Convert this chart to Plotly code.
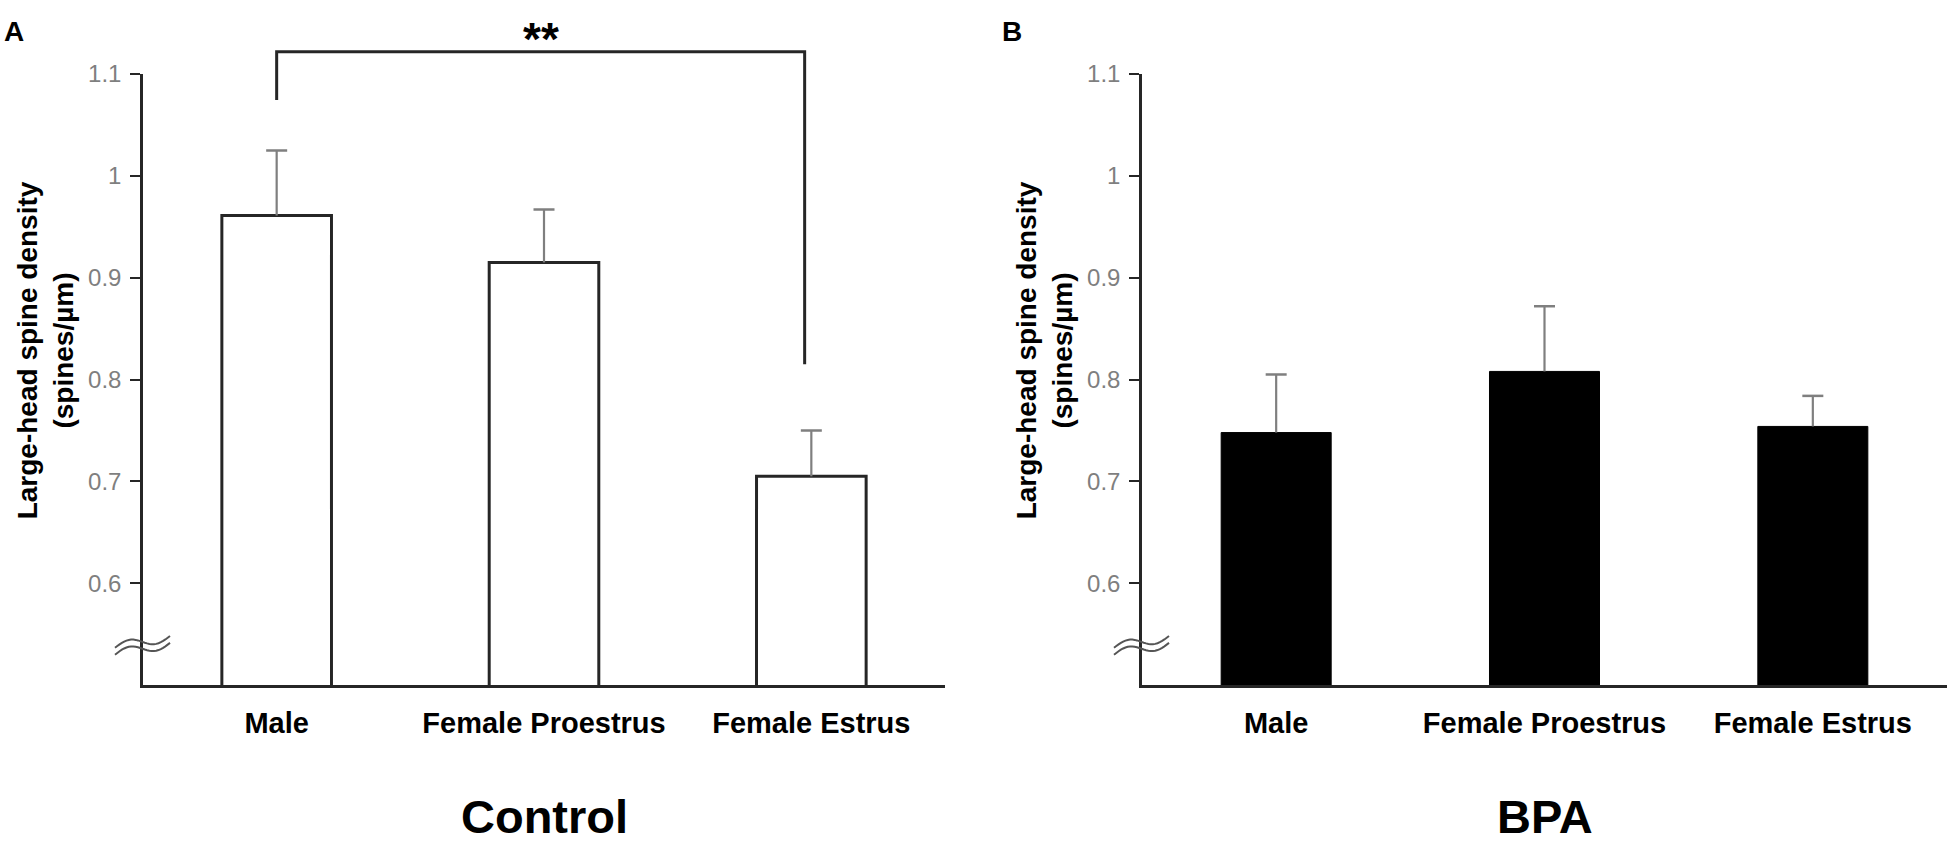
import math
import plotly.graph_objects as go
from plotly.subplots import make_subplots

# ---------------- data ----------------
categories = ["Male", "Female Proestrus", "Female Estrus"]
control_mean = [0.961, 0.915, 0.705]
control_sem = [0.064, 0.052, 0.045]
bpa_mean = [0.748, 0.808, 0.754]
bpa_sem = [0.057, 0.064, 0.030]
y_tick_vals = [0.6, 0.7, 0.8, 0.9, 1.0, 1.1]
y_tick_text = ["0.6", "0.7", "0.8", "0.9", "1", "1.1"]
panel_titles = ["Control", "BPA"]
panel_letters = ["A", "B"]
y_title = "Large-head spine density<br>(spines/µm)"
sig_label = "**"
sig_pair = (0, 2)  # Male vs Female Estrus (Control)

# ---------------- layout geometry ----------------
W, H = 1950, 843
FONT = "Arial, 'Liberation Sans', sans-serif"
AX = "#262626"
ERR = "#7f7f7f"
Y_RANGE = [0.5, 1.1]
X_RANGE = [-0.5, 2.5]
px_left = [(143, 945), (1142, 1947)]
py_top, py_bot = 61, 682.5

xdom = [(a / W, b / W) for a, b in px_left]
ydom = (1 - py_bot / H, 1 - py_top / H)


def paper_x(panel, xd):
    d0, d1 = xdom[panel]
    return d0 + (xd - X_RANGE[0]) / (X_RANGE[1] - X_RANGE[0]) * (d1 - d0)


def paper_y(v):
    return ydom[0] + (v - Y_RANGE[0]) / (Y_RANGE[1] - Y_RANGE[0]) * (ydom[1] - ydom[0])


fig = make_subplots(rows=1, cols=2)

for i, (means, sems) in enumerate([(control_mean, control_sem), (bpa_mean, bpa_sem)]):
    col = i + 1
    if i == 0:
        fill, line_c, line_w = "white", AX, 3
    else:
        fill, line_c, line_w = "black", "black", 1
    fig.add_trace(go.Bar(x=categories, y=means, width=0.41,
                         marker=dict(color=fill, line=dict(color=line_c, width=line_w)),
                         showlegend=False), row=1, col=col)
    # upper-only error bars
    ex, ey = [], []
    for c, m, s in zip(categories, means, sems):
        ex += [c, c, None]
        ey += [m, m + s, None]
    fig.add_trace(go.Scatter(x=ex, y=ey, mode="lines",
                             line=dict(color=ERR, width=2.2),
                             showlegend=False, hoverinfo="skip"), row=1, col=col)
    fig.add_trace(go.Scatter(x=categories, y=[m + s for m, s in zip(means, sems)],
                             mode="markers",
                             marker=dict(symbol="line-ew", size=15,
                                         line=dict(color=ERR, width=2.5)),
                             showlegend=False, hoverinfo="skip"), row=1, col=col)

for i in range(2):
    fig.update_xaxes(row=1, col=i + 1, domain=list(xdom[i]), range=X_RANGE,
                     showline=True, linecolor=AX, linewidth=2.5, ticks="",
                     showgrid=False, zeroline=False,
                     tickfont=dict(family=FONT, size=29, color="black", weight="bold"),
                     ticklabelstandoff=10)
    fig.update_yaxes(row=1, col=i + 1, domain=list(ydom), range=Y_RANGE,
                     showline=True, linecolor=AX, linewidth=2.5,
                     ticks="outside", ticklen=10, tickwidth=2, tickcolor=AX,
                     tickvals=y_tick_vals, ticktext=y_tick_text,
                     showgrid=False, zeroline=False,
                     tickfont=dict(family=FONT, size=24, color="#7f7f7f"),
                     ticklabelstandoff=4)

annotations = []
shapes = []
for i in range(2):
    # panel letter
    annotations.append(dict(text=f"<b>{panel_letters[i]}</b>", xref="paper", yref="paper",
                            x=(3 + 998 * i) / W, y=1 - 18 / H, xanchor="left", yanchor="middle",
                            showarrow=False, borderpad=0,
                            font=dict(family=FONT, size=28, color="black")))
    # y title
    annotations.append(dict(text=f"<b>{y_title}</b>", xref="paper", yref="paper",
                            x=(45 + 999 * i) / W, y=1 - 342 / H, xanchor="center", yanchor="middle",
                            textangle=-90, showarrow=False,
                            font=dict(family=FONT, size=28, color="black")))
    # panel title
    annotations.append(dict(text=f"<b>{panel_titles[i]}</b>", xref="paper", yref="paper",
                            x=paper_x(i, 1), y=1 - 816 / H, xanchor="center", yanchor="middle",
                            showarrow=False, borderpad=0,
                            font=dict(family=FONT, size=47, color="black")))
    # axis break symbol (two wavy lines across the y axis near the bottom)
    ax_px = px_left[i][0]
    yc = 642
    for off in (-3.5, 3.5):
        pts = []
        n = 24
        for k in range(n + 1):
            t = k / n
            xx = ax_px - 28 + 55 * t
            yy = yc + off + 6 - (12 * t + 5 * math.sin(2 * math.pi * t))
            pts.append((xx / W, 1 - yy / H))
        path = "M " + " L ".join(f"{a:.5f},{b:.5f}" for a, b in pts)
        shapes.append(dict(type="path", xref="paper", yref="paper", path=path,
                           line=dict(color="#555555", width=2)))

# significance bracket (Control)
x_l = paper_x(0, sig_pair[0])
x_r = paper_x(0, sig_pair[1] - 0.025)
y_top = paper_y(1.1218)
y_lb = paper_y(1.0745)
y_rb = paper_y(0.815)
shapes.append(dict(type="path", xref="paper", yref="paper",
                   path=f"M {x_l},{y_lb} L {x_l},{y_top} L {x_r},{y_top} L {x_r},{y_rb}",
                   line=dict(color=AX, width=3)))
annotations.append(dict(text=f"<b>{sig_label}</b>", xref="paper", yref="paper",
                        x=(x_l + x_r) / 2, y=1 - 25 / H, xanchor="center", yanchor="middle",
                        showarrow=False, borderpad=0,
                        font=dict(family=FONT, size=46, color="black")))

fig.update_layout(width=W, height=H, margin=dict(l=0, r=0, t=0, b=0),
                  plot_bgcolor="white", paper_bgcolor="white",
                  annotations=annotations, shapes=shapes, bargap=0.5,
                  showlegend=False)

fig.write_html("out.html", config={"displayModeBar": False},
               post_script="document.body.style.margin='0px';document.body.style.overflow='hidden';")
